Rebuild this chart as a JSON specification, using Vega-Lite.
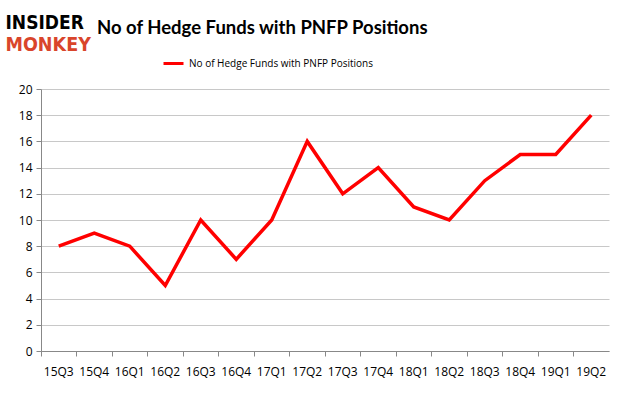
{
  "$schema": "https://vega.github.io/schema/vega-lite/v6.json",
  "autosize": {"type": "none"},
  "width": 568,
  "height": 262,
  "padding": {"left": 41, "top": 89, "right": 17, "bottom": 46},
  "background": "white",
  "title": {
    "text": "No of Hedge Funds with PNFP Positions",
    "anchor": "start",
    "dx": 92,
    "offset": -24,
    "font": "Lato",
    "fontSize": 18.5,
    "fontWeight": "bold",
    "color": "#000000"
  },
  "data": {
    "values": [
      {"quarter": "15Q3", "value": 8, "series": "No of Hedge Funds with PNFP Positions"},
      {"quarter": "15Q4", "value": 9, "series": "No of Hedge Funds with PNFP Positions"},
      {"quarter": "16Q1", "value": 8, "series": "No of Hedge Funds with PNFP Positions"},
      {"quarter": "16Q2", "value": 5, "series": "No of Hedge Funds with PNFP Positions"},
      {"quarter": "16Q3", "value": 10, "series": "No of Hedge Funds with PNFP Positions"},
      {"quarter": "16Q4", "value": 7, "series": "No of Hedge Funds with PNFP Positions"},
      {"quarter": "17Q1", "value": 10, "series": "No of Hedge Funds with PNFP Positions"},
      {"quarter": "17Q2", "value": 16, "series": "No of Hedge Funds with PNFP Positions"},
      {"quarter": "17Q3", "value": 12, "series": "No of Hedge Funds with PNFP Positions"},
      {"quarter": "17Q4", "value": 14, "series": "No of Hedge Funds with PNFP Positions"},
      {"quarter": "18Q1", "value": 11, "series": "No of Hedge Funds with PNFP Positions"},
      {"quarter": "18Q2", "value": 10, "series": "No of Hedge Funds with PNFP Positions"},
      {"quarter": "18Q3", "value": 13, "series": "No of Hedge Funds with PNFP Positions"},
      {"quarter": "18Q4", "value": 15, "series": "No of Hedge Funds with PNFP Positions"},
      {"quarter": "19Q1", "value": 15, "series": "No of Hedge Funds with PNFP Positions"},
      {"quarter": "19Q2", "value": 18, "series": "No of Hedge Funds with PNFP Positions"}
    ]
  },
  "mark": {"type": "line", "strokeWidth": 3.5, "strokeJoin": "miter"},
  "encoding": {
    "x": {
      "field": "quarter",
      "type": "ordinal",
      "sort": null,
      "scale": {"type": "band", "paddingInner": 0, "paddingOuter": 0},
      "axis": {
        "title": "MONKEY",
        "titleAngle": 0,
        "titleX": -36,
        "titleY": -301,
        "titleAlign": "left",
        "titleBaseline": "alphabetic",
        "titleColor": "#d9452b",
        "titleFont": "DejaVu Sans Condensed",
        "titleFontWeight": "bold",
        "titleFontSize": 19.5,
        "labelAngle": 0,
        "bandPosition": 0,
        "labelOffset": 0,
        "labelPadding": 10,
        "labelFont": "Open Sans",
        "labelFontSize": 12,
        "labelColor": "#000000",
        "domainColor": "#888888",
        "tickColor": "#888888",
        "tickSize": 5,
        "grid": false
      }
    },
    "y": {
      "field": "value",
      "type": "quantitative",
      "scale": {"domain": [0, 20]},
      "axis": {
        "values": [0, 2, 4, 6, 8, 10, 12, 14, 16, 18, 20],
        "title": "INSIDER",
        "titleAngle": 0,
        "titleX": -36,
        "titleY": -61,
        "titleAlign": "left",
        "titleBaseline": "alphabetic",
        "titleColor": "#000000",
        "titleFont": "DejaVu Sans Condensed",
        "titleFontWeight": "bold",
        "titleFontSize": 19,
        "labelFont": "Open Sans",
        "labelFontSize": 12,
        "labelColor": "#000000",
        "labelPadding": 4,
        "domainColor": "#888888",
        "tickColor": "#888888",
        "tickSize": 5,
        "gridColor": "#c8c8c8"
      }
    },
    "color": {
      "field": "series",
      "type": "nominal",
      "scale": {"range": ["#ff0000"]},
      "legend": {
        "title": null,
        "orient": "none",
        "legendX": 121,
        "legendY": -37,
        "symbolType": "stroke",
        "symbolSize": 400,
        "symbolStrokeWidth": 3,
        "labelFont": "Open Sans",
        "labelFontSize": 10,
        "labelLimit": 0,
        "labelColor": "#000000"
      }
    }
  },
  "config": {"view": {"stroke": null}}
}
